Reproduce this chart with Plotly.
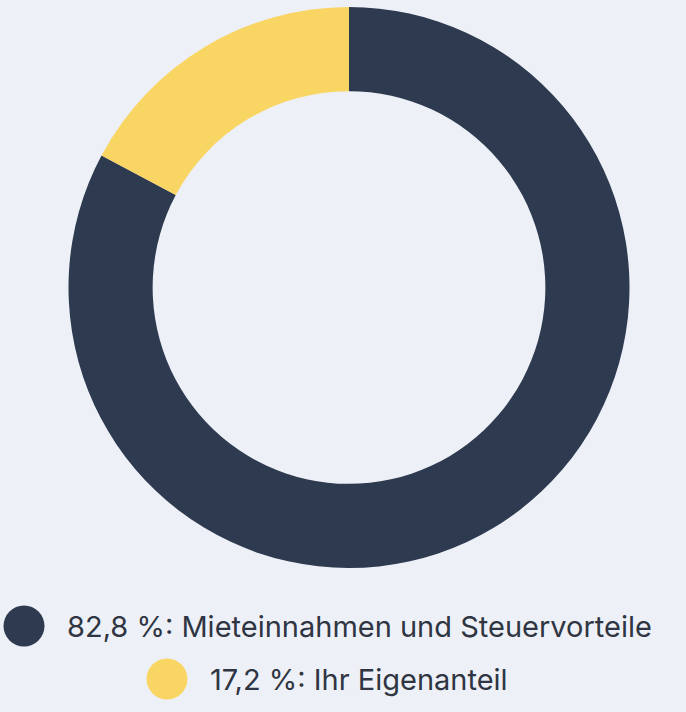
import plotly.graph_objects as go

# ---- data ----
labels = ["Mieteinnahmen und Steuervorteile", "Ihr Eigenanteil"]
values = [82.8, 17.2]
colors = ["#2E3A4F", "#F9D563"]

W, H = 686, 712
BG = "#EDF1F7"

fig = go.Figure()
fig.add_trace(go.Pie(
    labels=labels,
    values=values,
    marker=dict(colors=colors, line=dict(width=0)),
    hole=0.70,
    sort=False,
    direction="clockwise",
    rotation=0,
    textinfo="none",
    showlegend=False,
    domain=dict(x=[68 / W, 630 / W], y=[1 - 568 / H, 1 - 7 / H]),
))

# ---- custom legend (large circle markers, rows centred) ----
row_cy = [626, 679]      # px, row centre
row_cx = [24, 167]       # px, circle centre
rad = 20.5
gap = 20
for i, (lab, val, col) in enumerate(zip(labels, values, colors)):
    cx, cy = row_cx[i], row_cy[i]
    fig.add_shape(type="circle", xref="paper", yref="paper",
                  x0=(cx - rad) / W, x1=(cx + rad) / W,
                  y0=1 - (cy + rad) / H, y1=1 - (cy - rad) / H,
                  fillcolor=col, line=dict(width=0))
    txt = f"{val:.1f}".replace(".", ",") + f" %: {lab}"
    fig.add_annotation(xref="paper", yref="paper",
                       x=(cx + rad + gap) / W, y=1 - cy / H,
                       xanchor="left", yanchor="middle",
                       text=txt, showarrow=False,
                       font=dict(family="Inter, Roboto, sans-serif", size=29, color="#2F3542"))

fig.update_layout(
    width=W, height=H,
    margin=dict(l=0, r=0, t=0, b=0),
    paper_bgcolor=BG, plot_bgcolor=BG,
    showlegend=False,
)
fig.write_html("out.html")
